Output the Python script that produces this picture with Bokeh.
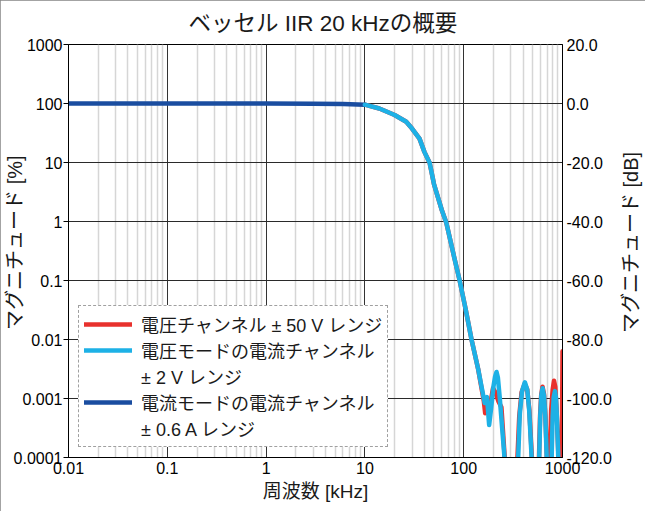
import math
from bokeh.plotting import figure
from bokeh.models import (Range1d, LinearAxis, LinearScale, FixedTicker, CustomJSTickFormatter,
                          PrintfTickFormatter, Legend, LegendItem, Label)
from bokeh.embed import file_html
from bokeh.resources import INLINE

# ---------------- texts ----------------
title_text = "ベッセル IIR 20 kHzの概要"
x_label = "周波数 [kHz]"
y_label_left = "マグニチュード [%]"
y_label_right = "マグニチュード [dB]"
name_volt = "電圧チャンネル ± 50 V レンジ"
name_vmode = ["電圧モードの電流チャンネル", "± 2 V レンジ"]
name_cur = ["電流モードの電流チャンネル", "± 0.6 A レンジ"]

# ---------------- ticks ----------------
x_ticks = [0.01, 0.1, 1, 10, 100, 1000]
y_ticks_pct = [0.0001, 0.001, 0.01, 0.1, 1, 10, 100, 1000]
y_ticks_db = [-120, -100, -80, -60, -40, -20, 0, 20]

# ---------------- data (frequency kHz, magnitude dB) ----------------
# current mode current channel ±0.6 A (dark blue)
freq_cur = [0.01, 0.1, 1, 3, 6, 10]
db_cur = [0.0, 0.0, -0.02, -0.08, -0.2, -0.4]

# voltage-mode current channel ±2 V (light blue)
freq_vmode = [10, 14, 20, 26.2, 30, 35.7, 40, 45.2, 50, 60, 66.7, 80, 91, 105, 120, 140,
              163, 172, 181, 190, 200, 208, 215, 222, 232, 245, 261, 310,
              356, 370, 390, 416, 440, 460, 487, 530,
              581, 595, 610, 629, 650, 670, 692, 735,
              777, 795, 815, 839, 860, 880, 906, 950, 1000]
db_vmode = [-0.4, -1.7, -3.9, -6.2, -8.5, -11.9, -16.4, -20.1, -27.3, -36.1, -40.4, -52, -60, -70, -80, -90,
            -101.5, -99.5, -109, -103, -96, -92.5, -91, -93, -100, -110, -121.5, -150,
            -120, -105, -97.5, -94.5, -97, -104, -120, -150,
            -120, -106, -99, -96.5, -99, -106, -120, -150,
            -120, -106, -99.5, -97.5, -100, -107, -120, -150, -150]

# voltage channel ±50 V (red)
freq_volt = [10, 14, 20, 26.2, 30, 35.7, 40, 45.2, 50, 60, 66.7, 80, 91, 105, 120, 140,
             160, 165, 172, 182, 190, 198, 210, 225, 241, 260, 300,
             350, 365, 385, 414, 440, 462, 490, 530,
             578, 593, 608, 628, 650, 672, 695, 725,
             747, 768, 795, 820, 845, 868, 892, 910, 950, 985, 1000]
db_volt = [-0.4, -1.7, -3.9, -6.2, -8.5, -11.9, -16.4, -20.1, -27.3, -36.1, -40.4, -52, -60, -70, -80, -90,
           -101, -105, -101, -104, -100, -96.5, -98, -101, -103, -120, -150,
           -120, -106, -98, -95, -97, -104, -120, -150,
           -120, -106, -99, -96, -98.5, -106, -120, -150,
           -120, -104, -97, -94, -96, -103, -112, -120, -150, -120, -84]

color_volt = "#E8312D"
color_vmode = "#1DB1E6"
color_cur = "#1A4DA0"


def to_pct(db_values):
    return [100.0 * 10 ** (d / 20.0) for d in db_values]


LATIN_CJK = "Liberation Sans, Noto Sans CJK JP"
NBSP = "\u00a0"

W, H = 645, 511
p = figure(width=W, height=H, x_axis_type="log", y_axis_type="log",
           x_range=Range1d(0.01, 1000), y_range=Range1d(0.0001, 1000),
           output_backend="svg", toolbar_location=None,
           min_border_left=67, min_border_right=83, min_border_top=44, min_border_bottom=54,
           background_fill_color="white", border_fill_color="white")
p.styles = {"outline": "3px solid #858585", "outline-offset": "-3px"}
p.outline_line_color = "black"
p.outline_line_width = 1

# title
p.title.text = title_text
p.title.align = "left"
p.title.offset = 120
p.title.standoff = 17
p.title.text_font = LATIN_CJK
p.title.text_font_size = "22.5px"
p.title.text_font_style = "normal"
p.title.text_color = "#1a1a1a"

p.extra_y_ranges = {"db": Range1d(-120, 20)}
p.extra_y_scales = {"db": LinearScale()}

fmt = CustomJSTickFormatter(code="return tick.toString();")

# x axis
minor_x = [m * 10.0 ** k for k in range(-2, 3) for m in range(2, 10)]
xt = FixedTicker(ticks=x_ticks, minor_ticks=minor_x)
p.xaxis.ticker = xt
p.xgrid.ticker = xt
p.xaxis.formatter = fmt
p.xaxis.major_tick_out = 0
p.xaxis.major_tick_in = 0
p.xaxis.minor_tick_out = 0
p.xaxis.minor_tick_in = 0
p.xaxis.major_label_standoff = 4
p.xaxis.major_label_text_font = "Liberation Sans"
p.xaxis.major_label_text_font_size = "16px"
p.xaxis.major_label_text_color = "black"
p.xaxis.axis_line_color = "black"
p.xaxis.axis_label = x_label
p.xaxis.axis_label_standoff = 4
p.xaxis.axis_label_text_font = LATIN_CJK
p.xaxis.axis_label_text_font_size = "19px"
p.xaxis.axis_label_text_font_style = "normal"
p.xaxis.axis_label_text_color = "#1a1a1a"

# y axis left
yt = FixedTicker(ticks=y_ticks_pct, minor_ticks=[])
p.yaxis.ticker = yt
p.ygrid.ticker = yt
p.yaxis.formatter = fmt
p.yaxis.major_tick_out = 5
p.yaxis.major_tick_in = 0
p.yaxis.minor_tick_out = 0
p.yaxis.minor_tick_in = 0
p.yaxis.major_tick_line_color = "black"
p.yaxis.major_label_standoff = 1
p.yaxis.major_label_text_font = "Liberation Sans"
p.yaxis.major_label_text_font_size = "16px"
p.yaxis.major_label_text_color = "black"
p.yaxis.axis_line_color = "black"
p.yaxis.axis_label = NBSP * 3 + y_label_left
p.yaxis.axis_label_standoff = -15
p.yaxis.axis_label_text_font = LATIN_CJK
p.yaxis.axis_label_text_font_size = "20px"
p.yaxis.axis_label_text_font_style = "normal"
p.yaxis.axis_label_text_color = "#1a1a1a"

# right dB axis
ra = LinearAxis(y_range_name="db", ticker=FixedTicker(ticks=y_ticks_db),
                formatter=PrintfTickFormatter(format="%.1f"))
ra.major_tick_out = 0
ra.major_tick_in = 0
ra.minor_tick_out = 0
ra.minor_tick_in = 0
ra.major_label_standoff = 4
ra.major_label_text_font = "Liberation Sans"
ra.major_label_text_font_size = "16px"
ra.major_label_text_color = "black"
ra.axis_line_color = "black"
p.add_layout(ra, "right")

# right axis title as a label in the right side panel
p.add_layout(Label(x=16, y=215, x_units="screen", y_units="screen", text=y_label_right,
                   angle=math.pi / 2, text_font=LATIN_CJK, text_font_size="20px",
                   text_color="#1a1a1a", text_align="center", text_baseline="middle"), "right")

# grids
p.xgrid.grid_line_color = "#333333"
p.xgrid.grid_line_width = 1
p.xgrid.minor_grid_line_color = "#d6d6d6"
p.xgrid.minor_grid_line_width = 1.5
p.ygrid.grid_line_color = "#2a2a2a"
p.ygrid.grid_line_width = 1

# lines
r_volt = p.line(freq_volt, to_pct(db_volt), line_color=color_volt, line_width=4.5,
                line_join="round", line_cap="round")
r_cur = p.line(freq_cur, to_pct(db_cur), line_color=color_cur, line_width=4.5,
               line_join="round", line_cap="round")
r_vmode = p.line(freq_vmode, to_pct(db_vmode), line_color=color_vmode, line_width=4.5,
                 line_join="round", line_cap="round")
# invisible renderers used only for second lines of legend labels
r_blank1 = p.line([], [], line_alpha=0)
r_blank2 = p.line([], [], line_alpha=0)

legend = Legend(items=[LegendItem(label=name_volt, renderers=[r_volt]),
                       LegendItem(label=name_vmode[0], renderers=[r_vmode]),
                       LegendItem(label=name_vmode[1], renderers=[r_blank1]),
                       LegendItem(label=name_cur[0], renderers=[r_cur]),
                       LegendItem(label=name_cur[1], renderers=[r_blank2])],
                location="bottom_left", margin=10, padding=5, spacing=0,
                glyph_width=48, glyph_height=14, label_standoff=9,
                label_text_font=LATIN_CJK, label_text_font_size="18px",
                label_text_color="#1a1a1a", label_height=23,
                border_line_color="#444444", border_line_width=1, border_line_dash="6 4",
                background_fill_color="white", background_fill_alpha=1.0)
p.add_layout(legend)

open("out.html", "w").write(file_html(p, INLINE))
